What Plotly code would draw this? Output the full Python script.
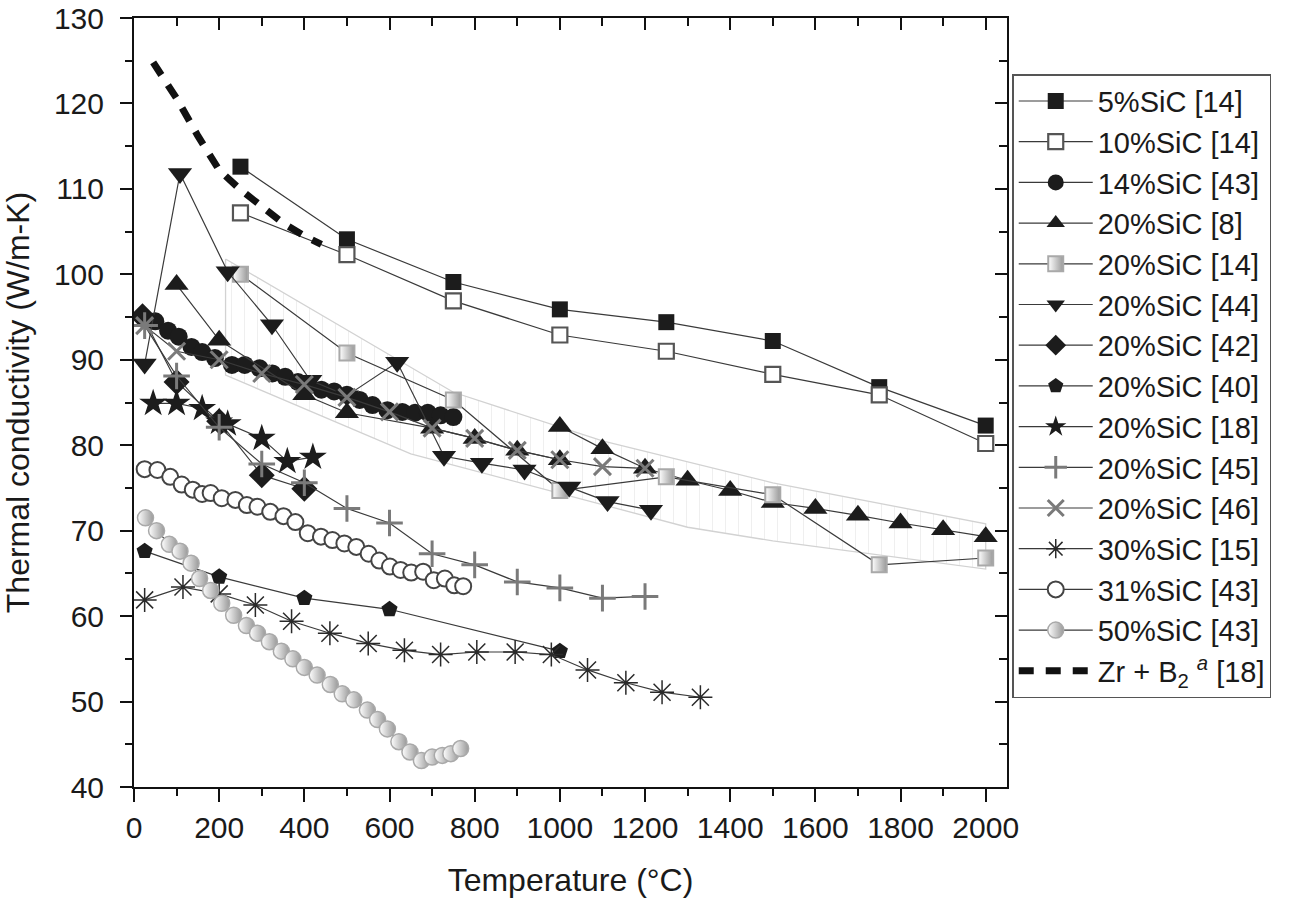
import plotly.graph_objects as go

# temperature (°C) / thermal conductivity (W/m-K)
sic5_T = [250, 500, 750, 1000, 1250, 1500, 1750, 2000]
sic5_k = [112.6, 104.1, 99.1, 95.9, 94.4, 92.2, 86.8, 82.3]

sic10_T = [250, 500, 750, 1000, 1250, 1500, 1750, 2000]
sic10_k = [107.2, 102.3, 96.9, 92.9, 91.0, 88.3, 85.9, 80.2]

sic14_T = [50, 80, 105, 135, 160, 190, 230, 260, 295, 325, 355, 385, 410, 440,
           470, 500, 530, 560, 595, 630, 660, 690, 720, 750]
sic14_k = [94.5, 93.4, 92.7, 91.5, 90.9, 90.2, 89.4, 89.4, 89.0, 88.4, 88.0, 87.4,
           87.0, 86.5, 86.3, 85.9, 85.3, 84.7, 84.1, 83.9, 83.8, 83.8, 83.5, 83.3]

# [8] is plotted as two runs (gap between them)
sic20_8_T = [100, 200, 400, 500, 700, 800, 900, 1000, None,
             1000, 1100, 1200, 1300, 1400, 1500, 1600, 1700, 1800, 1900, 2000]
sic20_8_k = [98.8, 92.3, 85.9, 83.8, 82.0, 80.8, 79.4, 78.3, None,
             82.2, 79.6, 77.3, 75.9, 74.7, 73.3, 72.6, 71.8, 70.9, 70.1, 69.3]

sic20_14_T = [250, 500, 750, 1000, 1250, 1500, 1750, 2000]
sic20_14_k = [100.0, 90.8, 85.3, 74.7, 76.3, 74.2, 66.0, 66.8]

sic20_44_T = [25, 108, 220, 324, 414, 500, 618, 728, 817, 917, 1022, 1112, 1214]
sic20_44_k = [89.5, 111.8, 100.3, 94.1, 87.6, 85.8, 89.7, 78.7, 77.9, 77.1, 75.1, 73.4, 72.4]

sic20_42_T = [20, 100, 200, 300, 400]
sic20_42_k = [95.1, 87.4, 82.8, 76.5, 74.9]

sic20_40_T = [25, 200, 400, 600, 1000]
sic20_40_k = [67.6, 64.6, 62.1, 60.8, 55.9]

sic20_18_T = [45, 100, 160, 200, 220, 300, 360, 420]
sic20_18_k = [84.9, 84.9, 84.3, 82.7, 82.5, 80.8, 78.1, 78.6]

sic20_45_T = [25, 100, 200, 300, 400, 500, 600, 700, 800, 900, 1000, 1100, 1200]
sic20_45_k = [94.0, 88.1, 82.1, 77.8, 75.6, 72.6, 70.9, 67.3, 66.0, 64.0, 63.3, 62.1, 62.3]

sic20_46_T = [25, 100, 200, 300, 400, 500, 600, 700, 800, 900, 1000, 1100, 1200]
sic20_46_k = [94.0, 91.0, 90.0, 88.4, 87.1, 85.6, 83.9, 82.0, 80.8, 79.4, 78.3, 77.5, 77.3]

sic30_T = [25, 115, 200, 285, 370, 460, 550, 635, 720, 805, 895, 980, 1065, 1155, 1240, 1330]
sic30_k = [61.9, 63.4, 62.6, 61.3, 59.4, 58.0, 56.8, 56.0, 55.5, 55.8, 55.8, 55.5,
           53.7, 52.2, 51.1, 50.5]

sic31_T = [25, 55, 85, 112, 138, 160, 180, 206, 238, 265, 290, 320, 351, 379, 408,
           439, 466, 494, 522, 551, 576, 601, 626, 651, 679, 704, 730, 752, 773]
sic31_k = [77.2, 77.1, 76.3, 75.4, 74.8, 74.3, 74.4, 73.8, 73.6, 73.0, 72.8, 72.2,
           71.7, 71.0, 69.7, 69.3, 68.9, 68.5, 68.1, 67.3, 66.5, 65.8, 65.4, 65.1,
           65.2, 64.2, 64.4, 63.6, 63.5]

sic50_T = [27, 53, 83, 108, 134, 154, 180, 206, 234, 264, 290, 318, 346, 373, 400,
           430, 461, 489, 516, 548, 572, 595, 622, 648, 675, 700, 724, 744, 767]
sic50_k = [71.5, 70.0, 68.4, 67.6, 66.2, 64.4, 63.0, 61.5, 60.1, 58.9, 58.0, 57.0,
           55.9, 55.0, 54.0, 53.1, 52.0, 50.9, 50.2, 49.0, 47.9, 46.8, 45.3, 44.1,
           43.1, 43.5, 43.7, 43.9, 44.5]

zrb2_T = [45, 100, 150, 200, 250, 300, 350, 400, 440]
zrb2_k = [124.8, 120.6, 116.2, 112.2, 109.9, 107.9, 106.0, 104.5, 103.5]

# scatter band of the 20%SiC data
band_T = [215, 750, 1100, 1500, 2000, 2000, 1500, 1300, 650, 215, 215]
band_k = [101.8, 86.2, 80.5, 75.6, 70.8, 65.5, 68.8, 70.4, 79.0, 88.2, 101.8]

DARK = "#1c1c1c"
LINE = "#3a3a3a"
GREY = "#7a7a7a"
LIGHT = "#a9a9a9"
FONT = "Liberation Sans, Arial, Helvetica, sans-serif"

fig = go.Figure()

fig.add_trace(go.Scatter(
    x=band_T, y=band_k, mode="lines", fill="toself",
    line=dict(color="#d2d2d2", width=1.3),
    fillcolor="rgba(255,255,255,0)",
    fillpattern=dict(shape="|", fgcolor="#e0e0e0", bgcolor="white", size=13, solidity=0.08),
    showlegend=False, hoverinfo="skip",
))


def add_series(name, T, k, symbol, size, color, mline_color=None, mline_width=0,
               gradient=None):
    marker = dict(symbol=symbol, size=size, color=color,
                  line=dict(color=mline_color or color, width=mline_width))
    if gradient:
        marker["gradient"] = dict(type="horizontal", color=gradient)
    fig.add_trace(go.Scatter(
        x=T, y=k, name=name, mode="lines+markers",
        line=dict(color=LINE, width=1.2),
        marker=marker, connectgaps=False,
    ))


add_series("5%SiC [14]", sic5_T, sic5_k, "square", 16, DARK)
add_series("10%SiC [14]", sic10_T, sic10_k, "square", 15, "white", "#555555", 2.2)
add_series("14%SiC [43]", sic14_T, sic14_k, "circle", 18, DARK)
add_series("20%SiC [8]", sic20_8_T, sic20_8_k, "triangle-up", 21, DARK)
add_series("20%SiC [14]", sic20_14_T, sic20_14_k, "square", 15, "white", LIGHT, 2,
           gradient="#999999")
add_series("20%SiC [44]", sic20_44_T, sic20_44_k, "triangle-down", 21, DARK)
add_series("20%SiC [42]", sic20_42_T, sic20_42_k, "diamond", 20, DARK)
add_series("20%SiC [40]", sic20_40_T, sic20_40_k, "pentagon", 17, DARK)
add_series("20%SiC [18]", sic20_18_T, sic20_18_k, "star", 21, DARK)
add_series("20%SiC [45]", sic20_45_T, sic20_45_k, "cross-thin", 19, GREY, GREY, 3)
add_series("20%SiC [46]", sic20_46_T, sic20_46_k, "x-thin", 17, GREY, GREY, 3)
add_series("30%SiC [15]", sic30_T, sic30_k, "asterisk", 20, DARK, "#2a2a2a", 1.5)
add_series("31%SiC [43]", sic31_T, sic31_k, "circle", 16, "white", "#444444", 2)
add_series("50%SiC [43]", sic50_T, sic50_k, "circle", 16, "white", LIGHT, 1.5,
           gradient="#999999")

fig.add_trace(go.Scatter(
    x=zrb2_T, y=zrb2_k, mode="lines",
    name="Zr + B<sub>2</sub> <sup><i>a</i></sup> [18]",
    line=dict(color="#111111", width=7, dash="15px,12px"),
))

# carrier for the mirrored top/right axes
fig.add_trace(go.Scatter(x=[None], y=[None], xaxis="x2", yaxis="y2",
                         showlegend=False, hoverinfo="skip"))

axis_common = dict(showline=True, linewidth=2, linecolor="#111111", showgrid=False,
                   zeroline=False, tickcolor="#111111", tickwidth=2, automargin=False)

fig.update_layout(
    width=1300, height=904,
    margin=dict(l=134, r=293, t=18, b=117),
    plot_bgcolor="white", paper_bgcolor="white",
    font=dict(family=FONT, size=30, color="#1a1a1a"),
    legend=dict(
        x=1.006, xanchor="left", y=0.927, yanchor="top",
        bordercolor="#555555", borderwidth=1.5, bgcolor="white",
        font=dict(size=29), itemwidth=74, tracegroupgap=0,
    ),
    xaxis=dict(
        range=[0, 2050], tick0=0, dtick=200, ticks="outside", ticklen=13,
        minor=dict(dtick=100, ticks="outside", ticklen=7, tickwidth=2, tickcolor="#111111"),
        title=dict(text="Temperature (°C)", standoff=26, font=dict(size=32)),
        **axis_common,
    ),
    yaxis=dict(
        range=[40, 130], tick0=40, dtick=10, ticks="outside", ticklen=12,
        ticklabelstandoff=10,
        minor=dict(dtick=5, ticks="outside", ticklen=7, tickwidth=2, tickcolor="#111111"),
        title=dict(text="Thermal conductivity (W/m-K)", standoff=20, font=dict(size=32)),
        **axis_common,
    ),
    xaxis2=dict(
        matches="x", overlaying="x", side="top", anchor="y", showticklabels=False,
        tick0=0, dtick=200, ticks="inside", ticklen=12,
        minor=dict(dtick=100, ticks="inside", ticklen=8, tickwidth=2, tickcolor="#111111"),
        **axis_common,
    ),
    yaxis2=dict(
        matches="y", overlaying="y", side="right", anchor="x", showticklabels=False,
        tick0=40, dtick=10, ticks="inside", ticklen=12,
        minor=dict(dtick=5, ticks="inside", ticklen=8, tickwidth=2, tickcolor="#111111"),
        **axis_common,
    ),
)

fig.write_html("out.html", config={"displayModeBar": False},
               post_script="document.body.style.margin='0';")
